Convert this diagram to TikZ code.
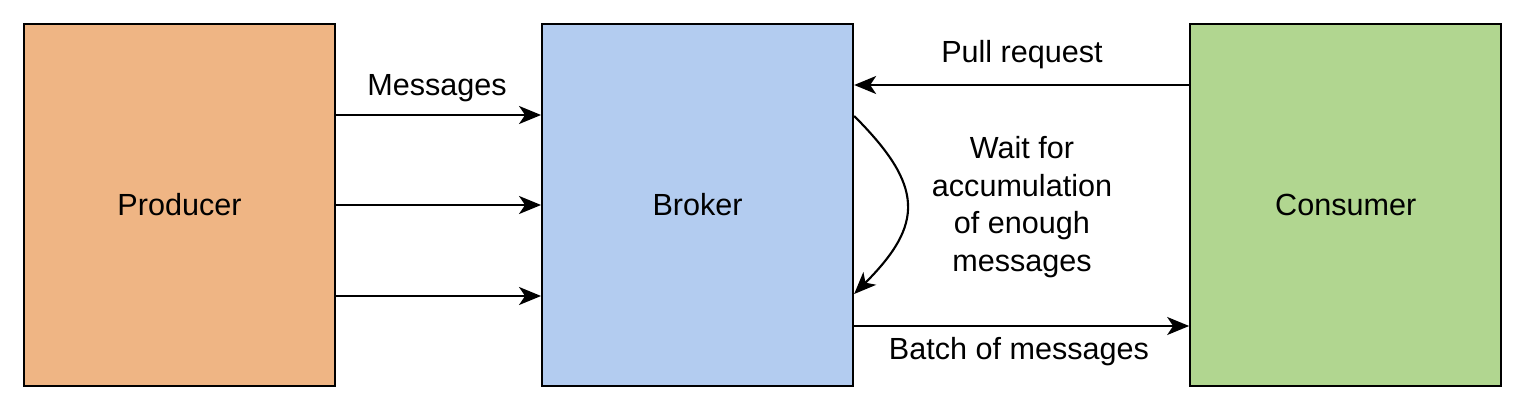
\documentclass[tikz,border=0pt]{standalone}
\usepackage{fontspec}
\setmainfont{Liberation Sans}
\usetikzlibrary{arrows.meta,positioning}

\definecolor{prodfill}{HTML}{EFB584}
\definecolor{brokfill}{HTML}{B3CCF0}
\definecolor{consfill}{HTML}{B1D690}

\begin{document}
\begin{tikzpicture}[
    font=\fontsize{17.4}{21.3}\selectfont,
    block/.style={draw=black, line width=1.2pt, rectangle, minimum width=6.22cm, minimum height=7.24cm, inner sep=0pt},
    link/.style={line width=1.2pt, -{Stealth[length=0.44cm, width=0.36cm, inset=0.12cm]}},
    lbl/.style={inner sep=0pt, align=center}
]
\useasboundingbox (0,0) rectangle (30.5,-8.2);

\node[block, fill=prodfill] (prod) at (3.59,-4.1) {Producer};
\node[block, fill=brokfill, right=4.1cm of prod] (brok) {Broker};
\node[block, fill=consfill, right=6.7cm of brok] (cons) {Consumer};

% producer -> broker
\draw[link] ([yshift=1.8cm]prod.east) -- ([yshift=1.8cm]brok.west);
\draw[link] (prod.east) -- (brok.west);
\draw[link] ([yshift=-1.82cm]prod.east) -- ([yshift=-1.82cm]brok.west);
\node[lbl] (msg) at (8.74,-1.76) {Messages};

% consumer <-> broker
\draw[link] ([yshift=2.4cm]cons.west) -- ([yshift=2.4cm]brok.east);
\node[lbl] (pull) at (20.44,-1.1) {Pull request};
\draw[link] ([yshift=-2.42cm]brok.east) -- ([yshift=-2.42cm]cons.west);
\node[lbl] (batch) at (20.38,-7.04) {Batch of messages};

% waiting loop
\draw[link] ([yshift=1.78cm]brok.east) .. controls +(1.4,-1.4) and +(1.4,1.4) .. ([yshift=-1.78cm]brok.east);
\node[lbl] (wait) at (20.44,-4.14) {Wait for\\accumulation\\of enough\\messages};

\end{tikzpicture}
\end{document}
